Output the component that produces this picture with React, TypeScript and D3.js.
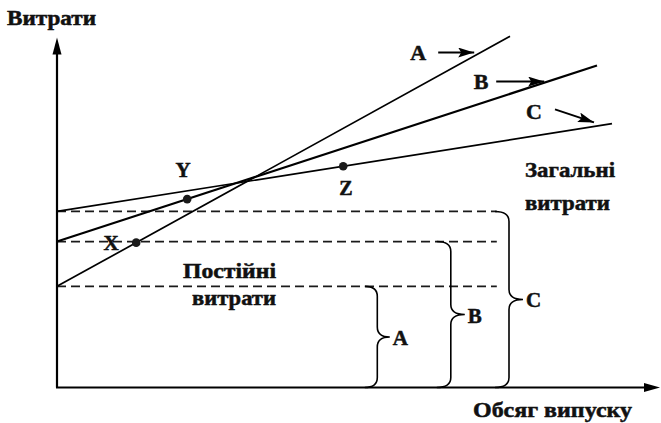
import React from "react";
import * as d3 from "d3";

// ---- data (conceptual units) ----
const seriesNames = ["A", "B", "C"];
const fixedCost = [28.9, 41.7, 50.3];
const variableRate = [0.946, 0.559, 0.271];
const lineEndX = [75.5, 90, 92.5];
const braceX = [51.3, 63.3, 73];
const dashEndX = 73.3;
const pointNames = ["X", "Y", "Z"];
const pointSeries = [0, 1, 2];
const pointX = [13.2, 21.7, 47.7];
const seriesLabelX = [60.2, 70.7, 79.5];
const seriesLabelY = [93.7, 85.4, 76.6];

const yAxisTitle = "Витрати";
const xAxisTitle = "Обсяг  випуску";
const fixedLabel = ["Постійні", "витрати"];
const totalLabel = ["Загальні", "витрати"];

const W = 661;
const H = 423;
const FONT = "Liberation Serif, Times New Roman, Times, serif";

export default function App() {
  const x = d3.scaleLinear().domain([0, 100]).range([57, 657]);
  const y = d3.scaleLinear().domain([0, 100]).range([387.5, 37.5]);

  const line = d3
    .line<number[]>()
    .x((d) => x(d[0]))
    .y((d) => y(d[1]));

  const costAt = (i: number, q: number) => fixedCost[i] + variableRate[i] * q;

  const bracePath = (x0: number, yTop: number, yBot: number, w: number) => {
    const xv = x0 + w * 0.5;
    const xt = x0 + w;
    const ym = (yTop + yBot) / 2;
    const r = 10;
    const p = d3.path();
    p.moveTo(x0, yTop);
    p.quadraticCurveTo(xv, yTop, xv, yTop + r);
    p.lineTo(xv, ym - r);
    p.quadraticCurveTo(xv, ym, xt, ym);
    p.quadraticCurveTo(xv, ym, xv, ym + r);
    p.lineTo(xv, yBot - r);
    p.quadraticCurveTo(xv, yBot, x0, yBot);
    return p.toString();
  };

  const braceW = [25, 28, 28];
  const lineW = [1.7, 2.2, 1.7];
  // [dx start, dy start, length x, length y] relative to label anchor
  const arrowVec = [
    [20, -7, 36, 0],
    [15, -7, 48, 0],
    [21, -10, 39, 13],
  ];

  const ts = {
    fontFamily: FONT,
    fontWeight: 700,
    fill: "#111",
    stroke: "#111",
    strokeWidth: 0.5,
  } as const;

  return (
    <div style={{ position: "absolute", left: 0, top: 0 }}>
      <svg width={W} height={H} viewBox={`0 0 ${W} ${H}`} style={{ display: "block", background: "#fff" }}>
        <defs>
          <marker id="ah" viewBox="0 0 16 10" refX="16" refY="5" markerWidth="16" markerHeight="10" markerUnits="userSpaceOnUse" orient="auto">
            <path d="M0,0 L16,5 L0,10 L3,5 Z" fill="#000" />
          </marker>
        </defs>

        {/* dashed fixed-cost levels */}
        {fixedCost.map((f, i) => (
          <line
            key={"d" + i}
            x1={x(0)}
            x2={x(dashEndX)}
            y1={y(f)}
            y2={y(f)}
            stroke="#1a1a1a"
            strokeWidth={1.7}
            strokeDasharray="9 5"
          />
        ))}

        {/* total-cost lines */}
        {seriesNames.map((s, i) => (
          <path
            key={"l" + s}
            d={line([
              [0, costAt(i, 0)],
              [lineEndX[i], costAt(i, lineEndX[i])],
            ])!}
            fill="none"
            stroke="#000"
            strokeWidth={lineW[i]}
          />
        ))}

        {/* braces */}
        {seriesNames.map((s, i) => (
          <g key={"b" + s}>
            <path
              d={bracePath(x(braceX[i]), y(fixedCost[i]), y(0), braceW[i])}
              fill="none"
              stroke="#000"
              strokeWidth={1.6}
            />
            <text
              x={x(braceX[i]) + braceW[i] + 3}
              y={(y(fixedCost[i]) + y(0)) / 2 + 8}
              fontSize={21}
              {...ts}
            >
              {s}
            </text>
          </g>
        ))}

        {/* axes */}
        <line x1={x(0)} y1={y(0)} x2={x(0)} y2={y(100) + 14} stroke="#000" strokeWidth={2.2} />
        <path d={`M${x(0)},${y(100)} L${x(0) - 4.5},${y(100) + 17} L${x(0) + 4.5},${y(100) + 17} Z`} fill="#000" />
        <line x1={x(0) - 1} y1={y(0)} x2={W - 12} y2={y(0)} stroke="#000" strokeWidth={2.2} />
        <path d={`M${W - 1},${y(0)} L${W - 17},${y(0) - 4.5} L${W - 17},${y(0) + 4.5} Z`} fill="#000" />

        {/* points */}
        {pointNames.map((p, k) => {
          const i = pointSeries[k];
          return (
            <circle key={"p" + p} cx={x(pointX[k])} cy={y(costAt(i, pointX[k]))} r={4.3} fill="#1a1a1a" />
          );
        })}
        <text x={111} y={250} textAnchor="middle" fontSize={21} {...ts}>
          {pointNames[0]}
        </text>
        <text x={183} y={177} textAnchor="middle" fontSize={21} {...ts}>
          {pointNames[1]}
        </text>
        <text x={346} y={195} textAnchor="middle" fontSize={20} {...ts}>
          {pointNames[2]}
        </text>

        {/* series labels with arrows */}
        {seriesNames.map((s, i) => {
          const cx = x(seriesLabelX[i]);
          const cy = y(seriesLabelY[i]);
          const a = arrowVec[i];
          return (
            <g key={"s" + s}>
              <text x={cx} y={cy} textAnchor="middle" fontSize={22} {...ts}>
                {s}
              </text>
              <line
                x1={cx + a[0]}
                y1={cy + a[1]}
                x2={cx + a[0] + a[2]}
                y2={cy + a[1] + a[3]}
                stroke="#000"
                strokeWidth={2}
                markerEnd="url(#ah)"
              />
            </g>
          );
        })}

        {/* titles */}
        <text x={7} y={25} fontSize={20} textLength={89} lengthAdjust="spacingAndGlyphs" {...ts}>
          {yAxisTitle}
        </text>
        <text x={473} y={417} fontSize={21} textLength={159} lengthAdjust="spacingAndGlyphs" {...ts}>
          {xAxisTitle}
        </text>
        <text x={183} y={278} fontSize={21} textLength={93} lengthAdjust="spacingAndGlyphs" {...ts}>
          {fixedLabel[0]}
        </text>
        <text x={192} y={305} fontSize={21} textLength={84} lengthAdjust="spacingAndGlyphs" {...ts}>
          {fixedLabel[1]}
        </text>
        <text x={525} y={177} fontSize={21} textLength={90} lengthAdjust="spacingAndGlyphs" {...ts}>
          {totalLabel[0]}
        </text>
        <text x={525} y={210} fontSize={21} textLength={85} lengthAdjust="spacingAndGlyphs" {...ts}>
          {totalLabel[1]}
        </text>
      </svg>
    </div>
  );
}
